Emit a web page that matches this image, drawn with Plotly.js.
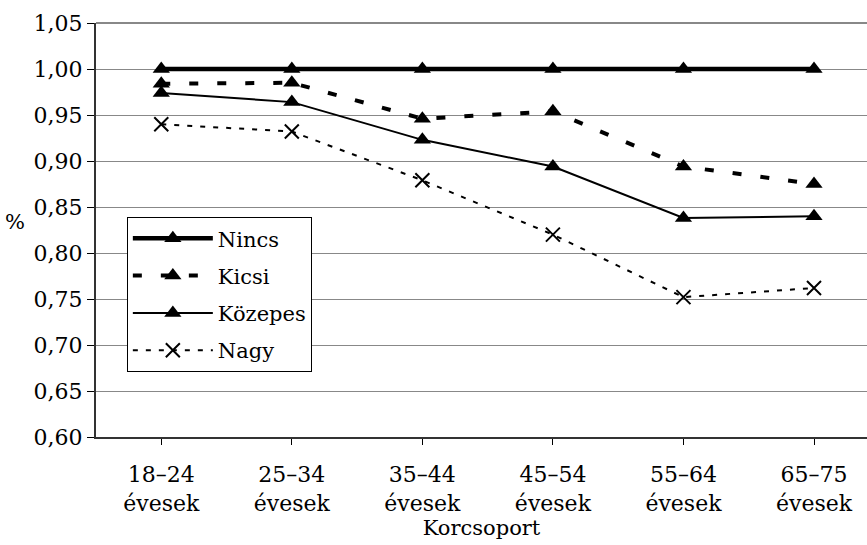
<!DOCTYPE html>
<html>
<head>
<meta charset="utf-8">
<script src="https://cdn.plot.ly/plotly-3.0.1.min.js"></script>
<style>html,body{margin:0;padding:0;background:#fff;}#chart{width:867px;height:545px;}</style>
</head>
<body>
<div id="chart"></div>
<script>
const categories = ["18–24<br>évesek", "25–34<br>évesek", "35–44<br>évesek", "45–54<br>évesek", "55–64<br>évesek", "65–75<br>évesek"];
const nincs   = [1.000, 1.000, 1.000, 1.000, 1.000, 1.000];
const kicsi   = [0.984, 0.985, 0.946, 0.954, 0.894, 0.875];
const kozepes = [0.974, 0.964, 0.923, 0.894, 0.838, 0.840];
const nagy    = [0.940, 0.932, 0.879, 0.820, 0.752, 0.762];
const yTicks  = [0.60, 0.65, 0.70, 0.75, 0.80, 0.85, 0.90, 0.95, 1.00, 1.05];

const FONT = "'DejaVu Serif', 'Liberation Serif', serif";
const FS = 21;
const xIdx = categories.map((c, i) => i);

const traces = [
  {name: "Nincs", legendgroup: "g1", x: xIdx, y: nincs, mode: "lines+markers",
   line: {color: "#000", width: 4.5},
   marker: {symbol: "triangle-up", size: 15, color: "#000"}},
  {name: "Kicsi", legendgroup: "g2", x: xIdx, y: kicsi, mode: "lines+markers",
   line: {color: "#000", width: 4, dash: "9px,19px"},
   marker: {symbol: "triangle-up", size: 15, color: "#000"}},
  {name: "Közepes", legendgroup: "g3", x: xIdx, y: kozepes, mode: "lines+markers",
   line: {color: "#000", width: 2},
   marker: {symbol: "triangle-up", size: 15, color: "#000"}},
  {name: "Nagy", legendgroup: "g4", x: xIdx, y: nagy, mode: "lines+markers",
   line: {color: "#000", width: 2, dash: "5px,8px"},
   marker: {symbol: "x-thin-open", size: 14, color: "#000", line: {color: "#000", width: 2}}}
];

const layout = {
  width: 867, height: 545,
  margin: {l: 96, r: 0, t: 23, b: 108, pad: 0},
  paper_bgcolor: "#fff", plot_bgcolor: "#fff",
  separators: ", ",
  font: {family: FONT, size: FS, color: "#000"},
  showlegend: true,
  legend: {x: 0.040, y: 0.531, xanchor: "left", yanchor: "top",
           bgcolor: "#fff", bordercolor: "#000", borderwidth: 1,
           tracegroupgap: 7, traceorder: "grouped",
           font: {family: FONT, size: FS, color: "#000"}, itemwidth: 80},
  xaxis: {
    range: [-0.5, 5.406], tickmode: "array", tickvals: xIdx, ticktext: categories,
    tickson: "boundaries", ticks: "outside", ticklen: 6, tickcolor: "#000", tickwidth: 1,
    ticklabelstandoff: 11,
    showline: true, linecolor: "#333", linewidth: 2, showgrid: false, zeroline: false,
    tickfont: {family: FONT, size: 22, color: "#000"},
    title: {text: "Korcsoport", font: {family: FONT, size: FS, color: "#000"}, standoff: 3},
    fixedrange: true
  },
  yaxis: {
    range: [0.60, 1.05], tickmode: "array", tickvals: yTicks, tickformat: ".2f",
    ticks: "outside", ticklen: 7, tickcolor: "#000", tickwidth: 1,
    showline: true, linecolor: "#333", linewidth: 2,
    showgrid: true, gridcolor: "#888", gridwidth: 1, zeroline: false,
    tickfont: {family: FONT, size: 22, color: "#000"},
    fixedrange: true
  },
  shapes: [
    {type: "line", xref: "paper", yref: "paper", x0: 0, x1: 1, y0: 1, y1: 1,
     line: {color: "#888", width: 2}}
  ],
  annotations: [
    {text: "%", xref: "paper", yref: "paper", x: -0.105, y: 0.519, showarrow: false,
     xanchor: "center", yanchor: "middle", font: {family: FONT, size: FS, color: "#000"}}
  ]
};

Plotly.newPlot("chart", traces, layout, {displayModeBar: false, staticPlot: true});
</script>
</body>
</html>
